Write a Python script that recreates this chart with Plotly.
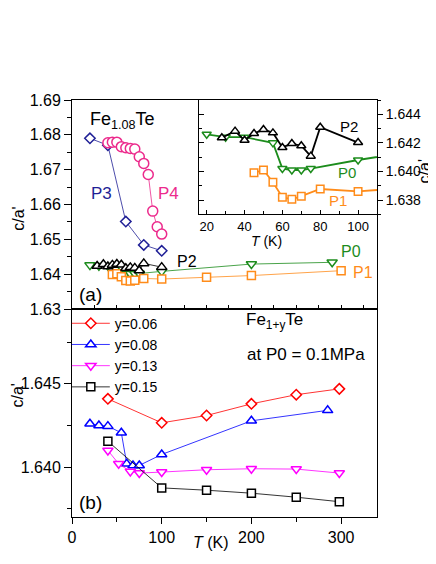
import plotly.graph_objects as go

# ---- (a) Fe1.08Te under pressure ----
p3_T = [20, 40, 60, 80, 100]
p3_c = [1.6790, 1.6770, 1.6551, 1.6484, 1.6467]

p4_T = [40, 45, 50, 55, 60, 65, 70, 75, 80, 85, 90, 95, 100]
p4_c = [1.6777, 1.6779, 1.6779, 1.6766, 1.6763, 1.6761, 1.6759,
        1.6737, 1.6718, 1.6686, 1.6581, 1.6536, 1.6515]

p2_T = [28, 35, 40, 45, 50, 55, 60, 65, 70, 75, 80, 100]
p2_c = [1.64236, 1.64282, 1.64218, 1.64266, 1.64293, 1.6427,
        1.64168, 1.64195, 1.6418, 1.64107, 1.64309, 1.64202]

p0_T = [20, 30, 40, 55, 60, 65, 70, 75, 100, 200, 290]
p0_c = [1.6426, 1.6424, 1.6424, 1.6420, 1.6402, 1.6401, 1.6401,
        1.6402, 1.6408, 1.6429, 1.6434]

p1_T = [45, 50, 55, 60, 65, 70, 80, 100, 150, 200, 300]
p1_c = [1.6399, 1.6401, 1.63925, 1.6382, 1.63805, 1.63827, 1.63877,
        1.6386, 1.6391, 1.6396, 1.6410]

# ---- (b) Fe1+yTe at P0 ----
y06_T = [40, 100, 150, 200, 250, 298]
y06_c = [1.6441, 1.64266, 1.6431, 1.6438, 1.64435, 1.6447]

y08_T = [20, 30, 40, 55, 61, 68, 75, 100, 200, 285]
y08_c = [1.6426, 1.6425, 1.64246, 1.64206, 1.6402, 1.6401, 1.6401,
         1.64076, 1.64278, 1.64341]

y13_T = [40, 52, 65, 75, 100, 150, 200, 250, 298]
y13_c = [1.6410, 1.6402, 1.63974, 1.63964, 1.6397, 1.63984, 1.6399,
         1.63988, 1.63964]

y15_T = [40, 100, 150, 200, 250, 298]
y15_c = [1.64155, 1.63875, 1.63861, 1.63843, 1.63819, 1.63792]

FONT = "Liberation Sans, Arial, sans-serif"
NAVY = "#1f1f96"
PINK = "#ec2a8c"
GREEN = "#1c8c1c"
ORANGE = "#ff8c1a"

fig = go.Figure()


def add(x, y, color, symbol, size, xa, ya, lw=1, mlw=1.5, name=None, legend=False):
    # white-filled symbols so the connecting line stops at the marker edge
    fig.add_trace(go.Scatter(
        x=x, y=y, mode="lines+markers", name=name, showlegend=legend,
        xaxis=xa, yaxis=ya,
        line=dict(color=color, width=lw),
        marker=dict(symbol=symbol, size=size, color="white",
                    line=dict(color=color, width=mlw)),
    ))


# main panel (a)
add(p0_T, p0_c, GREEN, "triangle-down", 9, "x", "y", lw=0.8)
add(p1_T, p1_c, ORANGE, "square", 8, "x", "y", lw=0.8)
add(p2_T, p2_c, "black", "triangle-up", 9, "x", "y", lw=0.8)
add(p3_T, p3_c, NAVY, "diamond", 8, "x", "y", lw=0.8)
add(p4_T, p4_c, PINK, "circle", 10, "x", "y", lw=0.8)

# inset
add(p0_T, p0_c, GREEN, "triangle-down", 8, "x3", "y3", lw=1.8)
add(p1_T, p1_c, ORANGE, "square", 7.5, "x3", "y3", lw=1.8)
add(p2_T, p2_c, "black", "triangle-up", 8, "x3", "y3", lw=1.8)
# invisible trace so the inset's left (inside-tick) axis gets drawn
fig.add_trace(go.Scatter(x=p2_T, y=p2_c, xaxis="x3", yaxis="y4", mode="markers",
                         marker=dict(opacity=0), showlegend=False, hoverinfo="skip"))

# panel (b)
add(y06_T, y06_c, "#ff0000", "diamond", 8, "x2", "y2", lw=0.8, name="y=0.06", legend=True)
add(y08_T, y08_c, "#0000ff", "triangle-up", 9, "x2", "y2", lw=0.8, name="y=0.08", legend=True)
add(y13_T, y13_c, "#ff00ff", "triangle-down", 9, "x2", "y2", lw=0.8, name="y=0.13", legend=True)
add(y15_T, y15_c, "black", "square", 8, "x2", "y2", lw=0.8, name="y=0.15", legend=True)

axis_common = dict(showline=True, linecolor="black", linewidth=1, mirror=True,
                   showgrid=False, zeroline=False, tickcolor="black",
                   tickfont=dict(family=FONT, size=16, color="black"))

# the page body adds an 8px offset, so the figure is 8px smaller on each axis
fig.update_layout(
    width=428, height=556,
    margin=dict(l=64, r=59, t=92, b=47),
    paper_bgcolor="white", plot_bgcolor="white",
    font=dict(family=FONT, size=16, color="black"),
    xaxis=dict(domain=[0, 1], anchor="y", range=[0, 340], tick0=0, dtick=25,
               ticks="inside", ticklen=4, showticklabels=False, **axis_common),
    yaxis=dict(domain=[0.4988, 1], anchor="x", range=[1.63, 1.69], dtick=0.01,
               tickformat=".2f", ticks="outside", ticklen=7,
               minor=dict(dtick=0.005, ticks="outside", ticklen=4, tickcolor="black"),
               **axis_common),
    xaxis2=dict(domain=[0, 1], anchor="y2", range=[0, 340], tick0=0, dtick=100,
                ticks="outside", ticklen=6,
                minor=dict(dtick=50, ticks="outside", ticklen=4, tickcolor="black"),
                **axis_common),
    yaxis2=dict(domain=[0, 0.4988], anchor="x2", range=[1.637, 1.6495],
                tick0=1.64, dtick=0.005, tickformat=".3f", ticks="outside", ticklen=7,
                minor=dict(dtick=0.0025, ticks="outside", ticklen=4, tickcolor="black"),
                **axis_common),
    xaxis3=dict(domain=[0.4168, 1], anchor="y3", range=[16, 110], tick0=0, dtick=20,
                ticks="inside", ticklen=4,
                minor=dict(dtick=10, ticks="inside", ticklen=3, tickcolor="black"),
                showline=True, linecolor="black", linewidth=1, mirror=True,
                showgrid=False, zeroline=False, tickcolor="black",
                tickfont=dict(family=FONT, size=13, color="black")),
    yaxis3=dict(domain=[0.7259, 1], anchor="x3", side="right", range=[1.637, 1.645],
                tick0=1.638, dtick=0.002, tickformat=".3f", ticks="outside", ticklen=5,
                minor=dict(dtick=0.001, ticks="outside", ticklen=3, tickcolor="black"),
                showline=True, linecolor="black", linewidth=1, mirror=True,
                showgrid=False, zeroline=False, tickcolor="black",
                tickfont=dict(family=FONT, size=14, color="black")),
    yaxis4=dict(overlaying="y3", anchor="x3", side="left", range=[1.637, 1.645],
                tick0=1.638, dtick=0.002, ticks="inside", ticklen=5,
                minor=dict(dtick=0.001, ticks="inside", ticklen=3, tickcolor="black"),
                showticklabels=False, showline=False, showgrid=False,
                zeroline=False, tickcolor="black"),
    legend=dict(x=-0.017, y=0.502, xanchor="left", yanchor="top",
                bgcolor="rgba(0,0,0,0)", font=dict(family=FONT, size=14),
                tracegroupgap=0, itemwidth=38),
)


def note(text, x, y, xref, yref, size=16, color="black", angle=0, xanchor="center"):
    fig.add_annotation(text=text, x=x, y=y, xref=xref, yref=yref, showarrow=False,
                       textangle=angle, xanchor=xanchor,
                       font=dict(family=FONT, size=size, color=color))


# panel (a) labels
note("Fe<sub>1.08</sub>Te", 56, 1.6840, "x", "y", size=18)
note("P3", 32.5, 1.6633, "x", "y", color=NAVY, size=17)
note("P4", 107.5, 1.6633, "x", "y", color=PINK, size=17)
note("P2", 128.5, 1.6435, "x", "y", size=16)
note("P0", 310.5, 1.6464, "x", "y", color=GREEN, size=16)
note("P1", 324, 1.6405, "x", "y", color=ORANGE, size=16)
note("(a)", 21, 1.6342, "x", "y", size=19)

# inset labels
note("P2", 95, 1.64312, "x3", "y3", size=15)
note("P0", 94, 1.63992, "x3", "y3", color=GREEN, size=15)
note("P1", 89.5, 1.63799, "x3", "y3", color=ORANGE, size=15)
note("<i>T</i> (K)", 0.639, 0.686, "paper", "paper", size=14)
note("c/a'", 1.155, 0.863, "paper", "paper", size=16, angle=-90)

# panel (b) labels
note("Fe<sub>1+y</sub>Te", 225.5, 1.64876, "x2", "y2", size=17)
note("at P0 = 0.1MPa", 261, 1.64676, "x2", "y2", size=17)
note("(b)", 21, 1.63786, "x2", "y2", size=19)

# axis titles
note("c/a'", -0.178, 0.748, "paper", "paper", size=16, angle=-90)
note("c/a'", -0.178, 0.257, "paper", "paper", size=16, angle=-90)
note("<i>T</i> (K)", 0.4556, -0.0863, "paper", "paper", size=16)

fig.write_html("out.html")
